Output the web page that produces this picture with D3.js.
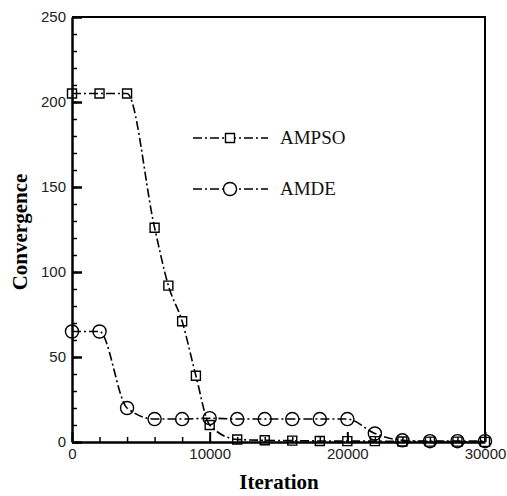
<!DOCTYPE html>
<html>
<head>
<meta charset="utf-8">
<script src="https://cdn.jsdelivr.net/npm/d3@7/dist/d3.min.js"></script>
<style>
  html, body { margin: 0; padding: 0; background: #fff; }
  svg { display: block; }
</style>
</head>
<body>
<svg id="chart" width="507" height="496"></svg>
<script>
// Convergence history of the two optimizers
const iterAMPSO = [0, 2000, 4000, 6000, 7000, 8000, 9000, 10000, 12000, 14000, 16000, 18000, 20000, 22000, 24000, 26000, 28000, 30000];
const valAMPSO  = [205, 205, 205, 126, 92, 71, 39, 10, 1.5, 1, 0.8, 0.6, 0.5, 0.5, 0.3, 0.2, 0.2, 0.1];

const iterAMDE = [0, 2000, 4000, 6000, 8000, 10000, 12000, 14000, 16000, 18000, 20000, 22000, 24000, 26000, 28000, 30000];
const valAMDE  = [65, 65, 20, 13.5, 13.5, 14, 13.5, 13.5, 13.5, 13.5, 13.5, 5, 1, 0.5, 0.5, 0.5];

const xMajorTicks = [0, 10000, 20000, 30000];
const yMajorTicks = [0, 50, 100, 150, 200, 250];
const seriesNames = ["AMPSO", "AMDE"];

const svg = d3.select("#chart");
const plotLeft = 72, plotRight = 485, plotTop = 17, plotBottom = 442;

const x = d3.scaleLinear().domain([0, 30000]).range([plotLeft, plotRight]);
const y = d3.scaleLinear().domain([0, 250]).range([plotBottom, plotTop]);

const dash = "9,3,2,3";
const line = d3.line().x(d => x(d[0])).y(d => y(d[1])).curve(d3.curveMonotoneX);

// frame (top and right edges)
svg.append("path")
  .attr("d", `M${plotLeft},${plotTop}H${plotRight}V${plotBottom}`)
  .attr("fill", "none").attr("stroke", "#000").attr("stroke-width", 2);

// minor ticks
svg.append("g").attr("transform", `translate(0,${plotBottom})`)
  .call(d3.axisBottom(x).tickValues(d3.range(0, 30001, 2000)).tickSize(-5).tickFormat(""))
  .call(g => g.select(".domain").remove())
  .call(g => g.selectAll("line").attr("stroke-width", 1.5));
svg.append("g").attr("transform", `translate(${plotLeft},0)`)
  .call(d3.axisLeft(y).tickValues(d3.range(0, 251, 10)).tickSize(-5).tickFormat(""))
  .call(g => g.select(".domain").remove())
  .call(g => g.selectAll("line").attr("stroke-width", 1.5));

// major ticks + labels
const fontAxis = "'Liberation Sans', Arial, sans-serif";
svg.append("g").attr("transform", `translate(0,${plotBottom})`)
  .call(d3.axisBottom(x).tickValues(xMajorTicks).tickSize(-10).tickPadding(6).tickSizeOuter(0).tickFormat(d3.format("d")))
  .call(g => g.select(".domain").attr("stroke-width", 2.5))
  .call(g => g.selectAll("line").attr("stroke-width", 2))
  .call(g => g.selectAll("text").attr("font-family", fontAxis).attr("font-size", 15).attr("fill", "#222"));
svg.append("g").attr("transform", `translate(${plotLeft},0)`)
  .call(d3.axisLeft(y).tickValues(yMajorTicks).tickSize(-10).tickPadding(6).tickSizeOuter(0))
  .call(g => g.select(".domain").attr("stroke-width", 2.5))
  .call(g => g.selectAll("line").attr("stroke-width", 2.5))
  .call(g => g.selectAll("text").attr("font-family", fontAxis).attr("font-size", 15).attr("fill", "#222"));

// series
const dPSO = iterAMPSO.map((v, i) => [v, valAMPSO[i]]);
const dDE = iterAMDE.map((v, i) => [v, valAMDE[i]]);

function symbolFor(shape) {
  return d3.symbol().type(shape === "square" ? d3.symbolSquare : d3.symbolCircle)
    .size(shape === "square" ? 81 : 135);
}

function drawSeries(data, shape) {
  svg.append("path").datum(data).attr("d", line)
    .attr("fill", "none").attr("stroke", "#000").attr("stroke-width", 1.6)
    .attr("stroke-dasharray", dash);
  svg.append("g").selectAll("path").data(data).join("path")
    .attr("transform", d => `translate(${x(d[0])},${y(d[1])})`)
    .attr("d", symbolFor(shape)).attr("fill", "none").attr("stroke", "#000").attr("stroke-width", 1.4);
}
drawSeries(dPSO, "square");
drawSeries(dDE, "circle");

// legend
const legend = svg.append("g");
[["square", 138], ["circle", 189]].forEach(([shape, ly], i) => {
  legend.append("line").attr("x1", 193).attr("x2", 268).attr("y1", ly).attr("y2", ly)
    .attr("stroke", "#000").attr("stroke-width", 1.6).attr("stroke-dasharray", dash);
  legend.append("path").attr("transform", `translate(230,${ly})`)
    .attr("d", symbolFor(shape))
    .attr("fill", "#fff").attr("stroke", "#000").attr("stroke-width", 1.4);
  legend.append("text").attr("x", 280).attr("y", ly + 6)
    .attr("font-family", "'Liberation Serif', 'Times New Roman', serif").attr("font-size", 19)
    .attr("fill", "#111").text(seriesNames[i]);
});

// axis titles
const fontTitle = "'Liberation Serif', 'Times New Roman', serif";
svg.append("text").attr("x", 279).attr("y", 489).attr("text-anchor", "middle")
  .attr("font-family", fontTitle).attr("font-size", 21).attr("font-weight", "bold").text("Iteration");
svg.append("text").attr("transform", "translate(27,232) rotate(-90)").attr("text-anchor", "middle")
  .attr("font-family", fontTitle).attr("font-size", 21).attr("font-weight", "bold").text("Convergence");
</script>
</body>
</html>
